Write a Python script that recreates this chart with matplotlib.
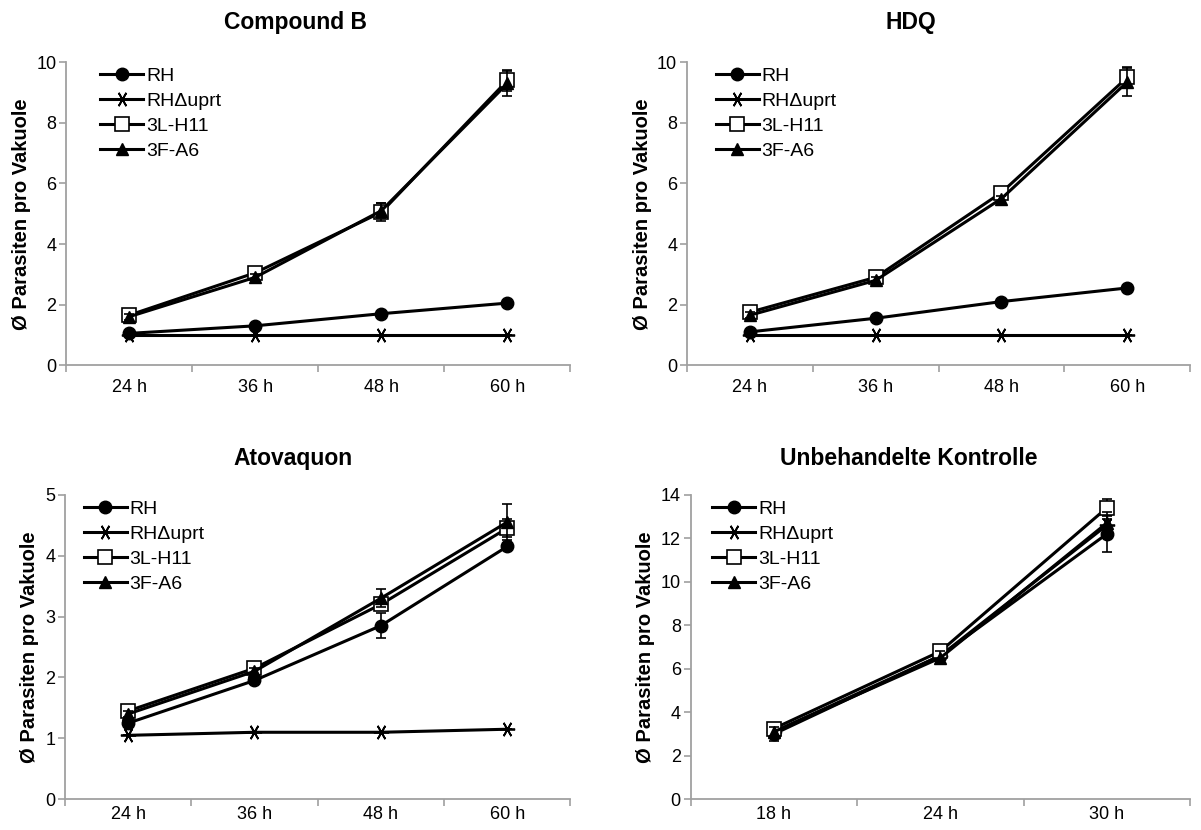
import matplotlib.pyplot as plt
from matplotlib.ticker import FixedLocator

plt.rcParams['font.family'] = ['Liberation Sans', 'DejaVu Sans']

strains = ['RH', 'RH\u0394uprt', '3L-H11', '3F-A6']
times_long = ['24 h', '36 h', '48 h', '60 h']
times_short = ['18 h', '24 h', '30 h']

# Compound B
cb_rh = [1.05, 1.3, 1.7, 2.05]
cb_uprt = [1.0, 1.0, 1.0, 1.0]
cb_3l = [1.65, 3.05, 5.05, 9.4]
cb_3f = [1.6, 2.9, 5.1, 9.3]
cb_rh_err = [0.05, 0.05, 0.05, 0.05]
cb_uprt_err = [0.0, 0.0, 0.0, 0.0]
cb_3l_err = [0.1, 0.1, 0.3, 0.35]
cb_3f_err = [0.1, 0.1, 0.25, 0.4]

# HDQ
hdq_rh = [1.1, 1.55, 2.1, 2.55]
hdq_uprt = [1.0, 1.0, 1.0, 1.0]
hdq_3l = [1.75, 2.9, 5.7, 9.5]
hdq_3f = [1.65, 2.8, 5.5, 9.35]
hdq_rh_err = [0.05, 0.05, 0.05, 0.05]
hdq_uprt_err = [0.0, 0.0, 0.0, 0.0]
hdq_3l_err = [0.1, 0.1, 0.1, 0.35]
hdq_3f_err = [0.1, 0.1, 0.1, 0.45]

# Atovaquon
ato_rh = [1.25, 1.95, 2.85, 4.15]
ato_uprt = [1.05, 1.1, 1.1, 1.15]
ato_3l = [1.45, 2.15, 3.2, 4.45]
ato_3f = [1.4, 2.1, 3.3, 4.55]
ato_rh_err = [0.05, 0.05, 0.2, 0.05]
ato_uprt_err = [0.0, 0.0, 0.0, 0.0]
ato_3l_err = [0.05, 0.05, 0.1, 0.15]
ato_3f_err = [0.05, 0.05, 0.15, 0.3]

# Unbehandelte Kontrolle
ko_rh = [3.0, 6.6, 12.2]
ko_uprt = [3.1, 6.6, 12.6]
ko_3l = [3.25, 6.8, 13.4]
ko_3f = [3.1, 6.5, 12.7]
ko_rh_err = [0.3, 0.3, 0.85]
ko_uprt_err = [0.1, 0.1, 0.3]
ko_3l_err = [0.1, 0.1, 0.4]
ko_3f_err = [0.2, 0.3, 0.5]

styles = [
    dict(marker='o', markersize=9, markerfacecolor='black'),
    dict(marker=(6, 2, 30), markersize=11, markeredgewidth=1.3),
    dict(marker='s', markersize=9.5, markerfacecolor='white', markeredgewidth=1.2),
    dict(marker='^', markersize=9, markerfacecolor='black'),
]


def panel(ax, labels, series, errors, ymax, ystep, leg_x, xpad):
    x = list(range(len(labels)))
    for name, y, e, st in zip(strains, series, errors, styles):
        ax.errorbar(x, y, yerr=e, fmt='none', ecolor='black', elinewidth=1.2,
                    capsize=3.5, capthick=1.2)
        ax.plot(x, y, color='black', linewidth=2.2, label=name, **st)
    ax.set_xlim(-0.5, len(labels) - 0.5)
    ax.set_ylim(0, ymax)
    ax.set_yticks([v * ystep for v in range(int(ymax / ystep) + 1)])
    ax.set_xticks(x)
    ax.set_xticklabels(labels, fontsize=13)
    ax.xaxis.set_minor_locator(FixedLocator([i - 0.5 for i in range(len(labels) + 1)]))
    ax.tick_params(axis='x', which='major', length=0, pad=xpad)
    ax.tick_params(axis='x', which='minor', length=5, color='#a0a0a0', width=1.2)
    ax.tick_params(axis='y', length=5, color='#a0a0a0', width=1.2, labelsize=13, pad=2)
    for s in ['top', 'right']:
        ax.spines[s].set_visible(False)
    for s in ['left', 'bottom']:
        ax.spines[s].set_color('#a0a0a0')
        ax.spines[s].set_linewidth(1.3)
    ax.set_ylabel('\u00d8 Parasiten pro Vakuole', fontsize=14.5, fontweight='bold',
                  labelpad=4)
    ax.legend(loc='upper left', bbox_to_anchor=(leg_x, 0.995), frameon=False,
              fontsize=14, handlelength=2.2, handletextpad=0.15, labelspacing=0.38,
              borderaxespad=0, borderpad=0.2)


fig = plt.figure(figsize=(12.01, 8.30), dpi=100)
ax1 = fig.add_axes([0.055, 0.560, 0.420, 0.365])
ax2 = fig.add_axes([0.572, 0.560, 0.419, 0.365])
ax3 = fig.add_axes([0.054, 0.037, 0.421, 0.367])
ax4 = fig.add_axes([0.575, 0.037, 0.416, 0.367])

panel(ax1, times_long, [cb_rh, cb_uprt, cb_3l, cb_3f],
      [cb_rh_err, cb_uprt_err, cb_3l_err, cb_3f_err], 10, 2, 0.06, 10)
panel(ax2, times_long, [hdq_rh, hdq_uprt, hdq_3l, hdq_3f],
      [hdq_rh_err, hdq_uprt_err, hdq_3l_err, hdq_3f_err], 10, 2, 0.05, 10)
panel(ax3, times_long, [ato_rh, ato_uprt, ato_3l, ato_3f],
      [ato_rh_err, ato_uprt_err, ato_3l_err, ato_3f_err], 5, 1, 0.03, 5)
panel(ax4, times_short, [ko_rh, ko_uprt, ko_3l, ko_3f],
      [ko_rh_err, ko_uprt_err, ko_3l_err, ko_3f_err], 14, 2, 0.036, 5)

# titles are centred on the chart area, not on the plot area
fig.text(295 / 1201, 1 - 23 / 830, 'Compound B', ha='center', va='center',
         fontsize=16.5, fontweight='bold')
fig.text(911 / 1201, 1 - 23 / 830, 'HDQ', ha='center', va='center',
         fontsize=16.5, fontweight='bold')
fig.text(293 / 1201, 1 - 458 / 830, 'Atovaquon', ha='center', va='center',
         fontsize=16.5, fontweight='bold')
fig.text(909 / 1201, 1 - 458 / 830, 'Unbehandelte Kontrolle', ha='center', va='center',
         fontsize=16.5, fontweight='bold')

fig.savefig('out.png', dpi=100)
